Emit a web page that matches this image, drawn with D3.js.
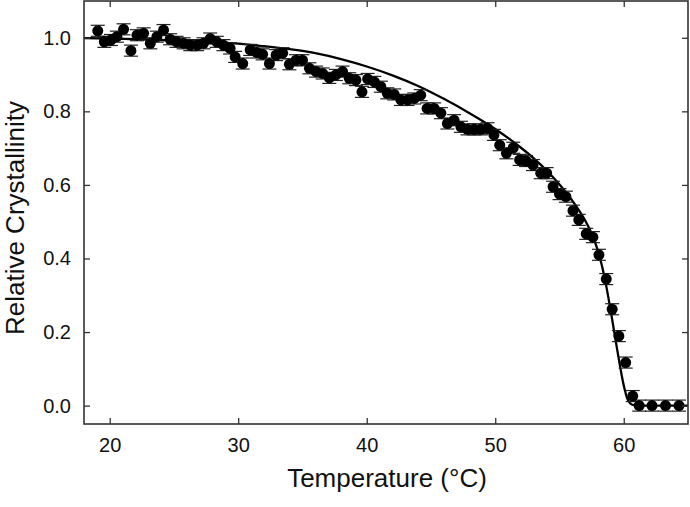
<!DOCTYPE html>
<html>
<head>
    <meta charset="utf-8">
    <title>Relative Crystallinity vs Temperature</title>
    <script src="https://cdn.jsdelivr.net/npm/d3@7/dist/d3.min.js"></script>
    <style>
        body { margin: 0; background: #fff; }
        text { font-family: Arial, "Liberation Sans", sans-serif; fill: #111; }
    </style>
</head>
<body>
    <svg id="chart" width="690" height="507"></svg>

    <script>
        // measured points (temperature in °C, relative crystallinity)
        var temps = [19.07, 19.58, 20.1, 20.56, 21.08, 21.65, 22.12, 22.64, 23.16, 23.67,
                     24.19, 24.7, 25.2, 25.75, 26.27, 26.8, 27.3, 27.82, 28.33, 28.85,
                     29.37, 29.76, 30.35, 30.93, 31.45, 31.9, 32.43, 32.95, 33.46, 33.98,
                     34.5, 35.0, 35.54, 36.06, 36.57, 37.09, 37.6, 38.12, 38.64, 39.16,
                     39.63, 40.07, 40.6, 41.1, 41.6, 42.14, 42.66, 43.17, 43.7, 44.2,
                     44.7, 45.25, 45.77, 46.28, 46.8, 47.33, 47.84, 48.36, 48.88, 49.4,
                     49.9, 50.35, 50.87, 51.4, 51.9, 52.4, 52.94, 53.54, 54.0, 54.5,
                     55.0, 55.5, 56.05, 56.5, 57.08, 57.6, 58.07, 58.64, 59.1, 59.62,
                     60.15, 60.7, 61.2, 62.2, 63.25, 64.3];
        var crystallinity = [1.019, 0.989, 0.994, 1.003, 1.023, 0.965, 1.007, 1.012, 0.985, 1.003,
                             1.021, 0.996, 0.989, 0.985, 0.98, 0.98, 0.985, 0.998, 0.989, 0.98,
                             0.971, 0.948, 0.93, 0.967, 0.96, 0.955, 0.93, 0.953, 0.958, 0.928,
                             0.939, 0.939, 0.917, 0.908, 0.903, 0.891, 0.899, 0.908, 0.89, 0.885,
                             0.853, 0.888, 0.88, 0.867, 0.849, 0.846, 0.831, 0.831, 0.835, 0.844,
                             0.808, 0.808, 0.795, 0.767, 0.776, 0.758, 0.751, 0.751, 0.751, 0.754,
                             0.736, 0.708, 0.686, 0.701, 0.668, 0.665, 0.654, 0.632, 0.632, 0.595,
                             0.575, 0.568, 0.53, 0.505, 0.467, 0.458, 0.41, 0.344, 0.262, 0.189,
                             0.117, 0.026, 0, 0, 0, 0];
        var errBar = 0.015;

        // fitted curve
        var fitTemps = [18, 20, 22, 24, 26, 28, 30, 32, 34, 36, 38, 40, 42, 44, 46, 48, 50,
                        52, 53, 54, 55, 56, 57, 57.5, 58, 58.5, 59, 59.5, 60, 60.3, 60.7, 61.2, 65];
        var fitValues = [0.999, 0.998, 0.996, 0.994, 0.991, 0.988, 0.984, 0.977, 0.969, 0.958,
                         0.942, 0.922, 0.898, 0.869, 0.834, 0.795, 0.752, 0.701, 0.672, 0.639,
                         0.601, 0.557, 0.503, 0.468, 0.42, 0.35, 0.255, 0.15, 0.055, 0.017,
                         0.002, 0, 0];

        var xTicks = [20, 30, 40, 50, 60];
        var yTicks = [0, 0.2, 0.4, 0.6, 0.8, 1.0];

        var svg = d3.select("#chart"),
            margin = {top: 1, right: 2, bottom: 83, left: 84},
            width = +svg.attr("width") - margin.left - margin.right,
            height = +svg.attr("height") - margin.top - margin.bottom;

        var g = svg.append("g")
                   .attr("transform", "translate(" + margin.left + "," + margin.top + ")");

        var x = d3.scaleLinear().domain([18, 65]).range([0, width]);
        var y = d3.scaleLinear().domain([-0.05, 1.1]).range([height, 0]);

        var points = temps.map(function(t, i) { return {t: t, v: crystallinity[i]}; });
        var fit = fitTemps.map(function(t, i) { return {t: t, v: fitValues[i]}; });

        // fit line
        var line = d3.line()
                     .x(function(d) { return x(d.t); })
                     .y(function(d) { return y(d.v); })
                     .curve(d3.curveMonotoneX);

        g.append("path")
         .datum(fit)
         .attr("d", line)
         .attr("fill", "none")
         .attr("stroke", "#000")
         .attr("stroke-width", 2.3);

        // error bars
        var eb = g.selectAll(".eb").data(points).enter().append("g").attr("class", "eb");
        eb.append("line")
          .attr("x1", function(d) { return x(d.t); })
          .attr("x2", function(d) { return x(d.t); })
          .attr("y1", function(d) { return y(d.v - errBar); })
          .attr("y2", function(d) { return y(d.v + errBar); })
          .attr("stroke", "#222").attr("stroke-width", 1);
        [-errBar, errBar].forEach(function(e) {
            eb.append("line")
              .attr("x1", function(d) { return x(d.t) - 7; })
              .attr("x2", function(d) { return x(d.t) + 7; })
              .attr("y1", function(d) { return y(d.v + e); })
              .attr("y2", function(d) { return y(d.v + e); })
              .attr("stroke", "#222").attr("stroke-width", 1.2);
        });

        // markers
        g.selectAll("circle")
         .data(points)
         .enter().append("circle")
         .attr("cx", function(d) { return x(d.t); })
         .attr("cy", function(d) { return y(d.v); })
         .attr("r", 5.5)
         .attr("fill", "#000");

        // axes, ticks pointing inwards on all four sides
        var axisColor = "#333";
        function styleAxis(sel) {
            sel.select(".domain").remove();
            sel.selectAll(".tick line").attr("stroke", axisColor).attr("stroke-width", 1.3);
            sel.selectAll(".tick text").style("font-size", "20px").attr("fill", "#111");
        }

        g.append("g")
         .attr("transform", "translate(0," + height + ")")
         .call(d3.axisBottom(x).tickValues(xTicks).tickSize(-6).tickPadding(14).tickFormat(d3.format("d")))
         .call(styleAxis);
        g.append("g")
         .call(d3.axisTop(x).tickValues(xTicks).tickSize(-6).tickFormat(""))
         .call(styleAxis);
        g.append("g")
         .call(d3.axisLeft(y).tickValues(yTicks).tickSize(-6).tickPadding(13).tickFormat(d3.format(".1f")))
         .call(styleAxis);
        g.append("g")
         .attr("transform", "translate(" + width + ",0)")
         .call(d3.axisRight(y).tickValues(yTicks).tickSize(-6).tickFormat(""))
         .call(styleAxis);

        g.append("rect")
         .attr("width", width).attr("height", height)
         .attr("fill", "none")
         .attr("stroke", axisColor)
         .attr("stroke-width", 1.6);

        // axis titles
        svg.append("text")
           .attr("x", 387)
           .attr("y", 487)
           .attr("text-anchor", "middle")
           .style("font-size", "26px")
           .text("Temperature (°C)");

        svg.append("text")
           .attr("transform", "translate(24,218) rotate(-90)")
           .attr("text-anchor", "middle")
           .style("font-size", "26px")
           .text("Relative Crystallinity");
    </script>
</body>
</html>
